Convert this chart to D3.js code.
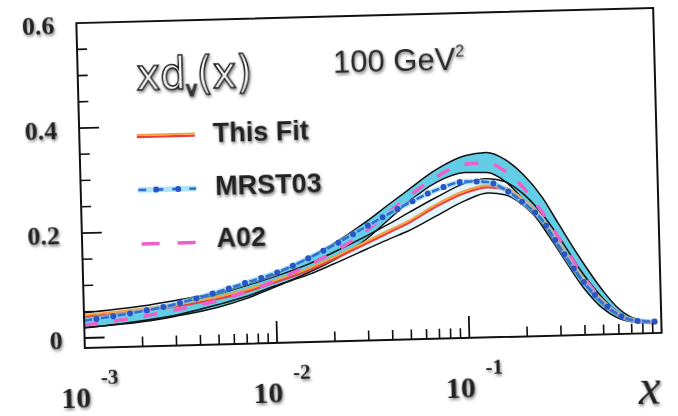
<!DOCTYPE html>
<html>
<head>
<meta charset="utf-8">
<script src="https://cdn.jsdelivr.net/npm/d3@7"></script>
<style>
  body { margin: 0; background: #fff; }
  svg { display: block; }
</style>
</head>
<body>
<svg id="chart" width="678" height="416"></svg>
<script>
// x grid (log scale) and the curves
const xs       = [0.001, 0.002, 0.003, 0.005, 0.007, 0.01, 0.015, 0.02, 0.03, 0.04, 0.05, 0.07, 0.1, 0.13, 0.16, 0.2, 0.25, 0.3, 0.4, 0.5, 0.6, 0.75, 0.95];
const thisFit  = [0.042, 0.051, 0.058, 0.070, 0.082, 0.099, 0.120, 0.139, 0.168, 0.189, 0.205, 0.235, 0.260, 0.269, 0.264, 0.240, 0.203, 0.158, 0.087, 0.044, 0.019, 0.005, 0.002];
const thisFitHi= [0.048, 0.058, 0.067, 0.080, 0.092, 0.108, 0.130, 0.150, 0.180, 0.203, 0.222, 0.250, 0.276, 0.283, 0.277, 0.252, 0.212, 0.170, 0.096, 0.050, 0.022, 0.006, 0.002];
const thisFitLo= [0.019, 0.030, 0.039, 0.057, 0.071, 0.090, 0.110, 0.128, 0.155, 0.174, 0.188, 0.215, 0.243, 0.256, 0.252, 0.230, 0.192, 0.146, 0.078, 0.037, 0.015, 0.004, 0.002];
const mrst03   = [0.033, 0.048, 0.060, 0.081, 0.097, 0.114, 0.141, 0.163, 0.198, 0.222, 0.240, 0.264, 0.279, 0.277, 0.262, 0.235, 0.200, 0.152, 0.082, 0.041, 0.018, 0.005, 0.003];
const a02      = [0.025, 0.038, 0.049, 0.065, 0.080, 0.100, 0.128, 0.150, 0.190, 0.225, 0.252, 0.288, 0.312, 0.314, 0.298, 0.264, 0.215, 0.168, 0.092, 0.045, 0.019, 0.005, 0.002];
const a02Hi    = [0.040, 0.050, 0.060, 0.077, 0.092, 0.112, 0.142, 0.166, 0.207, 0.240, 0.265, 0.302, 0.328, 0.333, 0.320, 0.290, 0.245, 0.195, 0.118, 0.065, 0.030, 0.008, 0.003];
const a02Lo    = [0.020, 0.028, 0.037, 0.052, 0.067, 0.088, 0.114, 0.135, 0.174, 0.212, 0.242, 0.278, 0.296, 0.295, 0.278, 0.240, 0.188, 0.142, 0.070, 0.030, 0.011, 0.003, 0.002];

// axis ticks
const yMajor = [0, 0.2, 0.4, 0.6];
const yMinor = [0.05, 0.1, 0.15, 0.25, 0.3, 0.35, 0.45, 0.5, 0.55];
const xDecades = [1e-3, 1e-2, 1e-1];
const xDecadeLabels = ["-3", "-2", "-1"];

// frame (before the slight tilt of the scanned figure)
const L = 80.5, R = 657.5, T = 15.5, B = 340.5;

const svg = d3.select("#chart");

// soft grey shadow behind text, like the scan
const defs = svg.append("defs");
const f = defs.append("filter").attr("id", "sh")
    .attr("x", "-20%").attr("y", "-30%").attr("width", "140%").attr("height", "160%");
f.append("feGaussianBlur").attr("in", "SourceAlpha").attr("stdDeviation", 1.8);
f.append("feOffset").attr("dx", 1).attr("dy", 1.5).attr("result", "b");
f.append("feComponentTransfer").append("feFuncA").attr("type", "linear").attr("slope", 0.5);
const m = f.append("feMerge");
m.append("feMergeNode");
m.append("feMergeNode").attr("in", "SourceGraphic");

const g = svg.append("g").attr("transform", "rotate(-1.5,369,178)");

const x = d3.scaleLog().domain([1e-3, 1]).range([L, R]);
const y = d3.scaleLinear().domain([-0.019, 0.6]).range([B, T]);

const pts = vals => xs.map((d, i) => [d, vals[i]]);
const line = d3.line().x(d => x(d[0])).y(d => y(d[1])).curve(d3.curveMonotoneX);
const area = (lo, hi) => d3.area()
    .x((d, i) => x(xs[i])).y0((d, i) => y(lo[i])).y1((d, i) => y(hi[i]))
    .curve(d3.curveMonotoneX)(xs);

// bands
g.append("path").attr("d", area(thisFitLo, thisFitHi)).attr("fill", "#e3f5fa");
g.append("path").attr("d", area(a02Lo, a02Hi)).attr("fill", "#62cde5");

[a02Hi, a02Lo, thisFitHi, thisFitLo].forEach(v => {
  g.append("path").attr("d", line(pts(v)))
    .attr("fill", "none").attr("stroke", "#111").attr("stroke-width", 1.5);
});

// This Fit: orange over red
g.append("path").attr("d", line(pts(thisFit))).attr("transform", "translate(0,1.2)")
  .attr("fill", "none").attr("stroke", "#e8413f").attr("stroke-width", 2.2);
g.append("path").attr("d", line(pts(thisFit))).attr("transform", "translate(0,-1)")
  .attr("fill", "none").attr("stroke", "#f5a03a").attr("stroke-width", 2);

// A02 pink dashes
g.append("path").attr("d", line(pts(a02)))
  .attr("fill", "none").attr("stroke", "#ee5fc8").attr("stroke-width", 3.5)
  .attr("stroke-dasharray", "14 16");

// MRST03 blue dash-dot
g.append("path").attr("d", line(pts(mrst03)))
  .attr("fill", "none").attr("stroke", "#7fd0f4").attr("stroke-width", 5.5).attr("opacity", 0.6);
g.append("path").attr("d", line(pts(mrst03)))
  .attr("fill", "none").attr("stroke", "#2f6fd6").attr("stroke-width", 2.6)
  .attr("stroke-dasharray", "8 9");
g.append("path").attr("d", line(pts(mrst03)))
  .attr("fill", "none").attr("stroke", "#2a55c8").attr("stroke-width", 6)
  .attr("stroke-linecap", "round").attr("stroke-dasharray", "0 17").attr("stroke-dashoffset", -12.5);

// frame
g.append("rect").attr("x", L).attr("y", T).attr("width", R - L).attr("height", B - T)
  .attr("fill", "none").attr("stroke", "#111").attr("stroke-width", 2);

// y ticks (inward)
g.selectAll(".ymaj").data(yMajor.filter(d => d < 0.6)).enter().append("line")
  .attr("x1", L).attr("x2", L + 20).attr("y1", d => y(d)).attr("y2", d => y(d))
  .attr("stroke", "#111").attr("stroke-width", 1.8);
g.selectAll(".ymin").data(yMinor).enter().append("line")
  .attr("x1", L).attr("x2", L + 10).attr("y1", d => y(d)).attr("y2", d => y(d))
  .attr("stroke", "#111").attr("stroke-width", 1.6);
g.selectAll(".ylab").data(yMajor).enter().append("text")
  .attr("x", L - 22).attr("y", d => y(d) + 10)
  .attr("text-anchor", "end").attr("font-family", "Liberation Serif, serif")
  .attr("font-weight", "bold").attr("font-size", 26).attr("fill", "#222")
  .attr("filter", "url(#sh)")
  .text(d => d === 0 ? "0" : d3.format(".1f")(d));

// x ticks (inward)
const xMinor = [];
xDecades.forEach(dec => { for (let k = 2; k <= 9; k++) xMinor.push(k * dec); });
g.selectAll(".xmin").data(xMinor).enter().append("line")
  .attr("x1", d => x(d)).attr("x2", d => x(d)).attr("y1", B).attr("y2", B - 10)
  .attr("stroke", "#111").attr("stroke-width", 1.6);
g.selectAll(".xmaj").data(xDecades.slice(1)).enter().append("line")
  .attr("x1", d => x(d)).attr("x2", d => x(d)).attr("y1", B).attr("y2", B - 22)
  .attr("stroke", "#111").attr("stroke-width", 1.8);

const xl = g.selectAll(".xlab").data(xDecades).enter().append("g")
  .attr("filter", "url(#sh)");
xl.append("text").attr("x", d => x(d) - 10).attr("y", 400)
  .attr("text-anchor", "middle").attr("font-family", "Liberation Serif, serif")
  .attr("font-weight", "bold").attr("font-size", 30).attr("fill", "#222").text("10");
xl.append("text").attr("x", (d, i) => x(d) + 24).attr("y", 377)
  .attr("text-anchor", "middle").attr("font-family", "Liberation Serif, serif")
  .attr("font-weight", "bold").attr("font-size", 21).attr("fill", "#222")
  .text((d, i) => xDecadeLabels[i]);

g.append("text").attr("x", 644).attr("y", 411).attr("text-anchor", "middle")
  .attr("font-family", "Liberation Serif, serif").attr("font-style", "italic")
  .attr("font-size", 50).attr("fill", "#222").attr("filter", "url(#sh)").text("x");

// title xd_v(x) in outline letters
const t = g.append("text").attr("x", 139).attr("y", 84)
  .attr("font-family", "DejaVu Sans, sans-serif").attr("font-size", 44)
  .attr("fill", "#fff").attr("stroke", "#1a1a1a").attr("stroke-width", 1.6)
  .attr("textLength", 116).attr("lengthAdjust", "spacingAndGlyphs")
  .attr("filter", "url(#sh)");
t.append("tspan").text("xd");
t.append("tspan").attr("font-size", 20).attr("dy", 7).text("v");
t.append("tspan").attr("dy", -7).text("(x)");

const q = g.append("text").attr("x", 336).attr("y", 72)
  .attr("font-family", "Liberation Sans, Arial, sans-serif").attr("font-size", 31)
  .attr("fill", "#2a2a2a").attr("filter", "url(#sh)");
q.append("tspan").text("100 GeV");
q.append("tspan").attr("font-size", 16).attr("dy", -13).text("2");

// legend
const legFont = "Liberation Sans, Arial, sans-serif";
g.append("line").attr("x1", 138).attr("x2", 196).attr("y1", 131).attr("y2", 131)
  .attr("stroke", "#e8413f").attr("stroke-width", 2.2);
g.append("line").attr("x1", 138).attr("x2", 196).attr("y1", 129).attr("y2", 129)
  .attr("stroke", "#f5a03a").attr("stroke-width", 2);
g.append("text").attr("x", 214).attr("y", 138).text("This Fit");

g.append("line").attr("x1", 138).attr("x2", 196).attr("y1", 184).attr("y2", 184)
  .attr("stroke", "#7fd0f4").attr("stroke-width", 5.5).attr("opacity", 0.6);
g.append("line").attr("x1", 138).attr("x2", 196).attr("y1", 184).attr("y2", 184)
  .attr("stroke", "#2f6fd6").attr("stroke-width", 2.6).attr("stroke-dasharray", "8 4.5 0 4.5");
[156, 178].forEach(cx => g.append("circle").attr("cx", cx).attr("cy", 184).attr("r", 3).attr("fill", "#2a55c8"));
g.append("text").attr("x", 215).attr("y", 191).text("MRST03");

g.append("line").attr("x1", 140).attr("x2", 194).attr("y1", 238).attr("y2", 238)
  .attr("stroke", "#ee5fc8").attr("stroke-width", 3.5).attr("stroke-dasharray", "18 18");
g.append("text").attr("x", 215).attr("y", 243).text("A02");

g.selectAll("text").filter(function () { return !this.getAttribute("font-family"); })
  .attr("font-family", legFont).attr("font-weight", "bold").attr("font-size", 27)
  .attr("fill", "#222").attr("filter", "url(#sh)");
</script>
</body>
</html>
